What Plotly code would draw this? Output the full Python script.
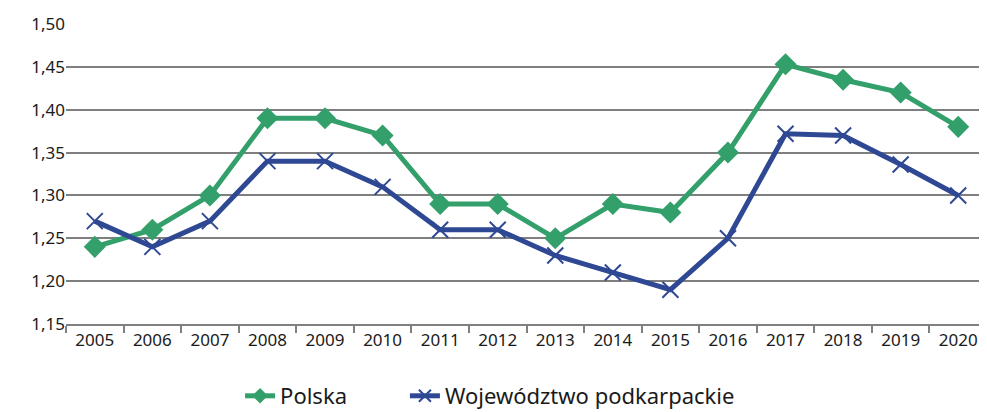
import plotly.graph_objects as go

years = [str(y) for y in range(2005, 2021)]
polska = [1.24, 1.26, 1.30, 1.39, 1.39, 1.37, 1.29, 1.29, 1.25, 1.29, 1.28, 1.35, 1.453, 1.435, 1.42, 1.38]
podkarpackie = [1.27, 1.24, 1.27, 1.34, 1.34, 1.31, 1.26, 1.26, 1.23, 1.21, 1.19, 1.25, 1.372, 1.37, 1.336, 1.30]
y_ticks = [1.15, 1.20, 1.25, 1.30, 1.35, 1.40, 1.45, 1.50]

green = "#33a06b"
blue = "#2f4894"

fig = go.Figure()
fig.add_trace(go.Scatter(
    x=years, y=polska, name="Polska", mode="lines+markers",
    line=dict(color=green, width=5),
    marker=dict(symbol="diamond", size=17, color=green),
    legend="legend",
))
fig.add_trace(go.Scatter(
    x=years, y=podkarpackie, name="Województwo podkarpackie", mode="lines+markers",
    line=dict(color=blue, width=5),
    marker=dict(symbol="x-thin-open", size=16, color=blue, line=dict(color=blue, width=2)),
    legend="legend2",
))

legend_common = dict(orientation="h", yanchor="top", y=-0.17, xanchor="left",
                     font=dict(size=22), itemsizing="constant", bgcolor="rgba(0,0,0,0)")

fig.update_layout(
    width=979, height=404,
    margin=dict(l=58, r=0, t=16, b=88, autoexpand=False),
    paper_bgcolor="white", plot_bgcolor="white",
    separators=", ",
    font=dict(family="Noto Sans, sans-serif", size=17, color="#1a1a1a"),
    showlegend=True,
    legend=dict(x=0.189, **legend_common),
    legend2=dict(x=0.368, **legend_common),
)
fig.update_xaxes(
    type="category", range=[-0.5, 15.5], showgrid=False, showline=True,
    linecolor="#808080", linewidth=2,
    ticks="outside", tickson="boundaries", ticklen=7, tickcolor="#808080", tickwidth=2,
    tickfont=dict(size=17), automargin=False,
)
fig.update_yaxes(
    range=[1.15, 1.50], tickvals=y_ticks, tickformat=".2f",
    showgrid=True, gridcolor="#7f7f7f", gridwidth=2, zeroline=False,
    ticks="", tickfont=dict(size=17), automargin=False,
)

fig.write_html("out.html")
